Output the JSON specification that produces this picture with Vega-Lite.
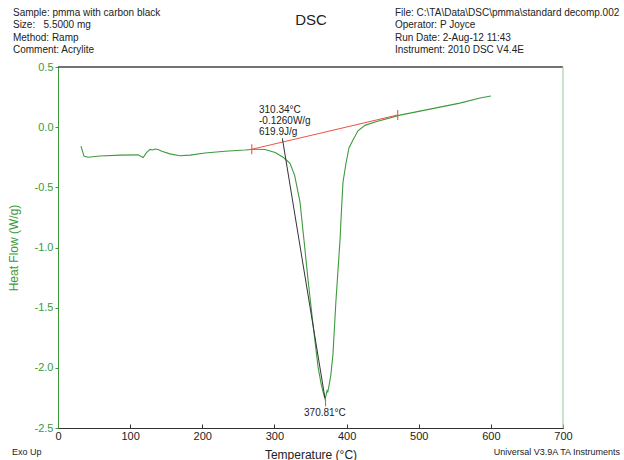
{
  "$schema": "https://vega.github.io/schema/vega-lite/v6.json",
  "autosize": {"type": "none"},
  "width": 505,
  "height": 361,
  "padding": {"left": 58, "top": 67, "right": 61, "bottom": 32},
  "background": "white",
  "config": {
    "view": {"stroke": null},
    "font": "Liberation Sans"
  },
  "datasets": {
    "curve": [
      {"t": 31.9, "hf": -0.157}, {"t": 36, "hf": -0.24}, {"t": 41.6, "hf": -0.25}, {"t": 58, "hf": -0.24},
      {"t": 86, "hf": -0.232}, {"t": 111, "hf": -0.23}, {"t": 118, "hf": -0.252}, {"t": 123, "hf": -0.21},
      {"t": 127.5, "hf": -0.185}, {"t": 131, "hf": -0.19}, {"t": 134.5, "hf": -0.182}, {"t": 138.6, "hf": -0.185},
      {"t": 144, "hf": -0.2}, {"t": 155, "hf": -0.222}, {"t": 169, "hf": -0.238}, {"t": 183, "hf": -0.232},
      {"t": 204, "hf": -0.215}, {"t": 231.5, "hf": -0.2}, {"t": 259, "hf": -0.19}, {"t": 273, "hf": -0.183},
      {"t": 287, "hf": -0.185}, {"t": 301, "hf": -0.21}, {"t": 312, "hf": -0.25}, {"t": 321.6, "hf": -0.3},
      {"t": 328, "hf": -0.4}, {"t": 335.4, "hf": -0.62}, {"t": 341, "hf": -0.94}, {"t": 346.6, "hf": -1.27},
      {"t": 353.5, "hf": -1.64}, {"t": 360.4, "hf": -1.99}, {"t": 364.6, "hf": -2.13}, {"t": 367.4, "hf": -2.2},
      {"t": 370.2, "hf": -2.26}, {"t": 371.5, "hf": -2.23}, {"t": 372.9, "hf": -2.19}, {"t": 374, "hf": -2.2},
      {"t": 375.6, "hf": -2.15}, {"t": 378.4, "hf": -2.05}, {"t": 381.2, "hf": -1.88}, {"t": 385.3, "hf": -1.44},
      {"t": 388.1, "hf": -1.19}, {"t": 390.9, "hf": -0.94}, {"t": 393, "hf": -0.68}, {"t": 395, "hf": -0.46},
      {"t": 399.2, "hf": -0.3}, {"t": 403.4, "hf": -0.17}, {"t": 408.9, "hf": -0.107}, {"t": 415.8, "hf": -0.03},
      {"t": 425.5, "hf": 0.015}, {"t": 439.4, "hf": 0.043}, {"t": 474, "hf": 0.1}, {"t": 515.6, "hf": 0.15},
      {"t": 557, "hf": 0.2}, {"t": 585, "hf": 0.242}, {"t": 600, "hf": 0.259}
    ],
    "baseline": [{"t": 268.6, "hf": -0.184}, {"t": 470.9, "hf": 0.101}],
    "baseTicks": [{"t": 268.6, "y1": -0.225, "y2": -0.143}, {"t": 470.9, "y1": 0.06, "y2": 0.142}, {"t": 370.81, "y1": -2.32, "y2": -2.25}],
    "tangent": [{"t": 311, "hf": -0.093}, {"t": 370, "hf": -2.25}],
    "frame": [
      {"x1": 0, "x2": 700, "y1": 0.5, "y2": 0.5, "c": "top"},
      {"x1": 700, "x2": 700, "y1": -2.5, "y2": 0.5, "c": "right"}
    ],
    "annotLeft": [
      {"t": 278.6, "hf": 0.143, "label": "310.34°C"},
      {"t": 278.6, "hf": 0.051, "label": "-0.1260W/g"},
      {"t": 278.6, "hf": -0.04, "label": "619.9J/g"}
    ],
    "annotCenter": [
      {"t": 370, "hf": -2.378, "label": "370.81°C"}
    ],
    "headerLeft": [
      {"t": -62.4, "hf": 0.949, "label": "Sample: pmma with carbon black"},
      {"t": -62.4, "hf": 0.845, "label": "Size: \u00a0 5.5000 mg"},
      {"t": -62.4, "hf": 0.745, "label": "Method: Ramp"},
      {"t": -62.4, "hf": 0.643, "label": "Comment: Acrylite"},
      {"t": 467, "hf": 0.949, "label": "File: C:\\TA\\Data\\DSC\\pmma\\standard decomp.002"},
      {"t": 467, "hf": 0.845, "label": "Operator: P Joyce"},
      {"t": 467, "hf": 0.745, "label": "Run Date: 2-Aug-12 11:43"},
      {"t": 467, "hf": 0.643, "label": "Instrument: 2010 DSC V4.4E"}
    ],
    "footerLeft": [
      {"t": -63.8, "hf": -2.7, "label": "Exo Up"}
    ],
    "footerRight": [
      {"t": 779, "hf": -2.7, "label": "Universal V3.9A TA Instruments"}
    ],
    "title": [{"t": 350.7, "hf": 0.89, "label": "DSC"}]
  },
  "layer": [
    {
      "data": {"name": "frame"},
      "mark": {"type": "rule", "clip": false},
      "encoding": {
        "x": {"field": "x1", "type": "quantitative", "scale": {"domain": [0, 700], "nice": false, "zero": false},
          "axis": {
            "values": [0,25,50,75,100,125,150,175,200,225,250,275,300,325,350,375,400,425,450,475,500,525,550,575,600,625,650,675,700],
            "labelExpr": "datum.value % 100 === 0 ? datum.label : ''",
            "title": "Temperature (°C)", "titleFont": "Liberation Sans", "titleFontWeight": "normal", "titleFontSize": 12, "titleColor": "#222", "titlePadding": 8,
            "labelFont": "Liberation Sans", "labelFontSize": 11, "labelColor": "#222", "labelPadding": 6,
            "domainColor": "#333", "tickColor": "#333", "tickSize": -4, "grid": false, "labelFlush": false, "labelOverlap": false
          }},
        "x2": {"field": "x2"},
        "y": {"field": "y1", "type": "quantitative", "scale": {"domain": [-2.5, 0.5], "nice": false, "zero": false},
          "axis": {
            "values": [0.5,0.375,0.25,0.125,0,-0.125,-0.25,-0.375,-0.5,-0.625,-0.75,-0.875,-1,-1.125,-1.25,-1.375,-1.5,-1.625,-1.75,-1.875,-2,-2.125,-2.25,-2.375,-2.5],
            "labelExpr": "abs(datum.value*2 - round(datum.value*2)) < 0.000001 ? replace(format(datum.value, '.1f'), '\u2212', '-') : ''",
            "title": "Heat Flow (W/g)", "titleFont": "Liberation Sans", "titleFontWeight": "normal", "titleFontSize": 12, "titleColor": "#3a9a3a", "titlePadding": 14,
            "labelFont": "Liberation Sans", "labelFontSize": 11, "labelColor": "#3a9a3a", "labelPadding": 2,
            "domainColor": "#3a9a3a", "tickColor": "#3a9a3a", "tickSize": 3, "grid": false, "labelFlush": false, "labelOverlap": false
          }},
        "y2": {"field": "y2"},
        "color": {"field": "c", "type": "nominal", "scale": {"domain": ["top", "right"], "range": ["#444444", "#a8d8a8"]}, "legend": null},
        "strokeWidth": {"value": 1.3}
      }
    },
    {
      "data": {"name": "curve"},
      "mark": {"type": "line", "color": "#3d9a3d", "strokeWidth": 1.1},
      "encoding": {"x": {"field": "t", "type": "quantitative"}, "y": {"field": "hf", "type": "quantitative"}}
    },
    {
      "data": {"name": "baseline"},
      "mark": {"type": "line", "color": "#ee5544", "strokeWidth": 1.1},
      "encoding": {"x": {"field": "t", "type": "quantitative"}, "y": {"field": "hf", "type": "quantitative"}}
    },
    {
      "data": {"name": "baseTicks"},
      "mark": {"type": "rule", "color": "#ee5544", "strokeWidth": 1.1},
      "encoding": {"x": {"field": "t", "type": "quantitative"}, "y": {"field": "y1", "type": "quantitative"}, "y2": {"field": "y2"}}
    },
    {
      "data": {"name": "tangent"},
      "mark": {"type": "line", "color": "#333333", "strokeWidth": 1},
      "encoding": {"x": {"field": "t", "type": "quantitative"}, "y": {"field": "hf", "type": "quantitative"}}
    },
    {
      "data": {"name": "annotLeft"},
      "mark": {"type": "text", "fontSize": 10, "color": "#222", "baseline": "middle", "align": "left", "font": "Liberation Sans"},
      "encoding": {"x": {"field": "t", "type": "quantitative"}, "y": {"field": "hf", "type": "quantitative"}, "text": {"field": "label"}}
    },
    {
      "data": {"name": "annotCenter"},
      "mark": {"type": "text", "fontSize": 10, "color": "#222", "baseline": "middle", "align": "center", "font": "Liberation Sans"},
      "encoding": {"x": {"field": "t", "type": "quantitative"}, "y": {"field": "hf", "type": "quantitative"}, "text": {"field": "label"}}
    },
    {
      "data": {"name": "headerLeft"},
      "mark": {"type": "text", "fontSize": 10, "color": "#222", "baseline": "middle", "align": "left", "clip": false, "font": "Liberation Sans"},
      "encoding": {"x": {"field": "t", "type": "quantitative"}, "y": {"field": "hf", "type": "quantitative"}, "text": {"field": "label"}}
    },
    {
      "data": {"name": "footerLeft"},
      "mark": {"type": "text", "fontSize": 9, "color": "#222", "baseline": "middle", "align": "left", "clip": false, "font": "Liberation Sans"},
      "encoding": {"x": {"field": "t", "type": "quantitative"}, "y": {"field": "hf", "type": "quantitative"}, "text": {"field": "label"}}
    },
    {
      "data": {"name": "footerRight"},
      "mark": {"type": "text", "fontSize": 9, "color": "#222", "baseline": "middle", "align": "right", "clip": false, "font": "Liberation Sans"},
      "encoding": {"x": {"field": "t", "type": "quantitative"}, "y": {"field": "hf", "type": "quantitative"}, "text": {"field": "label"}}
    },
    {
      "data": {"name": "title"},
      "mark": {"type": "text", "fontSize": 15, "color": "#222", "baseline": "middle", "align": "center", "clip": false, "font": "Liberation Sans"},
      "encoding": {"x": {"field": "t", "type": "quantitative"}, "y": {"field": "hf", "type": "quantitative"}, "text": {"field": "label"}}
    }
  ]
}
